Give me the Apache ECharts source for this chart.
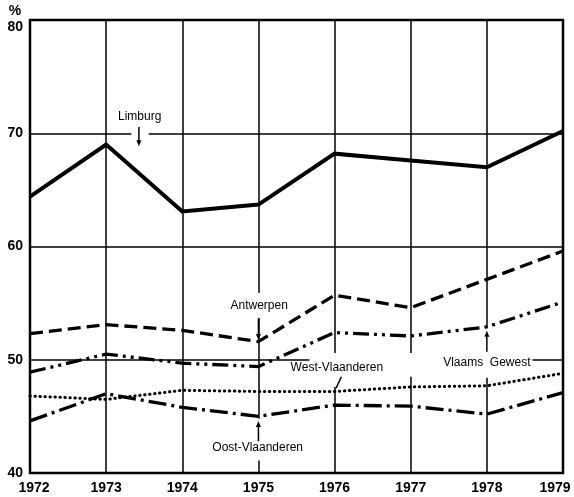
<!DOCTYPE html>
<html>
<head>
<meta charset="utf-8">
<script src="https://cdn.jsdelivr.net/npm/echarts@6/dist/echarts.min.js"></script>
<style>
  html, body { margin: 0; padding: 0; background: #fff; }
  #chart { width: 574px; height: 497px; }
</style>
</head>
<body>
<div id="chart"></div>
<script>
const years = ["1972", "1973", "1974", "1975", "1976", "1977", "1978", "1979"];
const limburg = [64.4, 69.0, 63.1, 63.7, 68.2, 67.6, 67.0, 70.2];
const antwerpen = [52.3, 53.1, 52.6, 51.6, 55.7, 54.6, 57.1, 59.6];
const vlaamsGewest = [48.9, 50.5, 49.7, 49.4, 52.4, 52.1, 52.9, 55.1];
const westVlaanderen = [46.8, 46.5, 47.3, 47.2, 47.2, 47.6, 47.7, 48.8];
const oostVlaanderen = [44.6, 47.0, 45.8, 45.0, 46.0, 45.9, 45.2, 47.1];
const yTicks = [40, 50, 60, 70, 80];

const chart = echarts.init(document.getElementById("chart"));

const line = (name, data, width, type, cap) => ({
  name,
  type: "line",
  data,
  symbol: "none",
  lineStyle: { color: "#000", width, type, cap: cap || "butt", join: "miter" },
  z: 2,
});

const tickFont = { fontWeight: "bold", fontSize: 14, color: "#000", fontFamily: "Liberation Sans" };

chart.setOption({
  animation: false,
  backgroundColor: "#fff",
  grid: {
    left: 30,
    right: 11,
    top: 20,
    bottom: 24,
    show: true,
    borderColor: "#000",
    borderWidth: 2.5,
  },
  xAxis: {
    type: "category",
    data: years,
    boundaryGap: false,
    axisLine: { show: false },
    axisTick: { show: false },
    splitLine: { show: true, interval: 0, lineStyle: { color: "#000", width: 1.5 } },
    axisLabel: {
      interval: 0,
      margin: 8,
      ...tickFont,
      formatter: (v, i) => (i === 0 ? "{f|" + v + "}" : i === years.length - 1 ? "{l|" + v + "}" : v),
      rich: {
        f: { padding: [0, 0, 0, 8], ...tickFont },
        l: { padding: [0, 16, 0, 0], ...tickFont },
      },
    },
  },
  yAxis: {
    type: "value",
    min: yTicks[0],
    max: yTicks[yTicks.length - 1],
    interval: 10,
    axisLine: { show: false },
    axisTick: { show: false },
    splitLine: { lineStyle: { color: "#000", width: 1.5 } },
    axisLabel: {
      margin: 7,
      ...tickFont,
      formatter: (v) => (v === yTicks[yTicks.length - 1] ? "{t|" + v + "}" : v),
      rich: { t: { padding: [14, 0, 0, 0], ...tickFont } },
    },
  },
  series: [
    line("Limburg", limburg, 4, "solid"),
    line("Antwerpen", antwerpen, 3.3, [13, 6]),
    line("Vlaams Gewest", vlaamsGewest, 3.3, [16, 5, 3, 5, 3, 5]),
    line("West-Vlaanderen", westVlaanderen, 3, [0.4, 4.6], "round"),
    line("Oost-Vlaanderen", oostVlaanderen, 3.3, [18, 5, 3, 5]),
  ],
});

// annotations, placed in axis units (fractional year index, value)
const x0 = chart.convertToPixel({ gridIndex: 0 }, [0, 40])[0];
const x7 = chart.convertToPixel({ gridIndex: 0 }, [7, 40])[0];
const xAt = (f) => x0 + (f * (x7 - x0)) / 7;
const yAt = (v) => chart.convertToPixel({ gridIndex: 0 }, [0, v])[1];

// white cut-outs in the grid lines around the labels
const gaps = [
  [1.33, 1.56, 70.4, 69.7],
  [2.96, 3.04, 55.9, 53.7],
  [2.96, 3.04, 44.8, 41.1],
  [3.67, 6.6, 50.25, 49.75],
  [3.96, 4.04, 50.6, 47.6],
  [4.96, 5.04, 50.6, 48.5],
  [5.96, 6.04, 52.8, 48.4],
];
const labels = [
  ["Limburg", 1.44, 71.45],
  ["Antwerpen", 3.01, 54.75],
  ["West-Vlaanderen", 4.03, 49.27],
  ["Oost-Vlaanderen", 2.99, 42.2],
  ["Vlaams  Gewest", 6.0, 49.7],
];
const arrows = [
  [1.43, 70.55, 1.43, 68.85],
  [3.0, 53.6, 3.0, 51.75],
  [3.0, 42.8, 3.0, 44.6],
  [6.0, 50.7, 6.0, 52.55],
];

const graphic = [];
gaps.forEach(([a, b, top, bot]) => {
  graphic.push({
    type: "rect",
    z: 1,
    shape: { x: xAt(a), y: yAt(top), width: xAt(b) - xAt(a), height: yAt(bot) - yAt(top) },
    style: { fill: "#fff" },
  });
});
labels.forEach(([t, f, v]) => {
  graphic.push({
    type: "text",
    z: 5,
    x: xAt(f),
    y: yAt(v),
    style: {
      text: t,
      fill: "#000",
      font: "12px 'Liberation Sans', Arial, sans-serif",
      align: "center",
      verticalAlign: "middle",
    },
  });
});
arrows.forEach(([fa, va, fb, vb]) => {
  const xa = xAt(fa), ya = yAt(va), xb = xAt(fb), yb = yAt(vb);
  const dir = yb > ya ? 1 : -1;
  graphic.push({
    type: "line",
    z: 5,
    shape: { x1: xa, y1: ya, x2: xb, y2: yb - dir * 4 },
    style: { stroke: "#000", lineWidth: 1.5 },
  });
  graphic.push({
    type: "polygon",
    z: 5,
    shape: { points: [[xb - 2.5, yb - dir * 6], [xb + 2.5, yb - dir * 6], [xb, yb]] },
    style: { fill: "#000" },
  });
});
// leader for West-Vlaanderen
graphic.push({
  type: "line",
  z: 5,
  shape: { x1: xAt(4.09), y1: yAt(48.5), x2: xAt(4.02), y2: yAt(47.5) },
  style: { stroke: "#000", lineWidth: 1.5 },
});
graphic.push({
  type: "text",
  z: 5,
  x: 15,
  y: 11,
  style: {
    text: "%",
    fill: "#000",
    font: "bold 14px 'Liberation Sans', Arial, sans-serif",
    align: "center",
    verticalAlign: "middle",
  },
});

chart.setOption({ graphic });
</script>
</body>
</html>
